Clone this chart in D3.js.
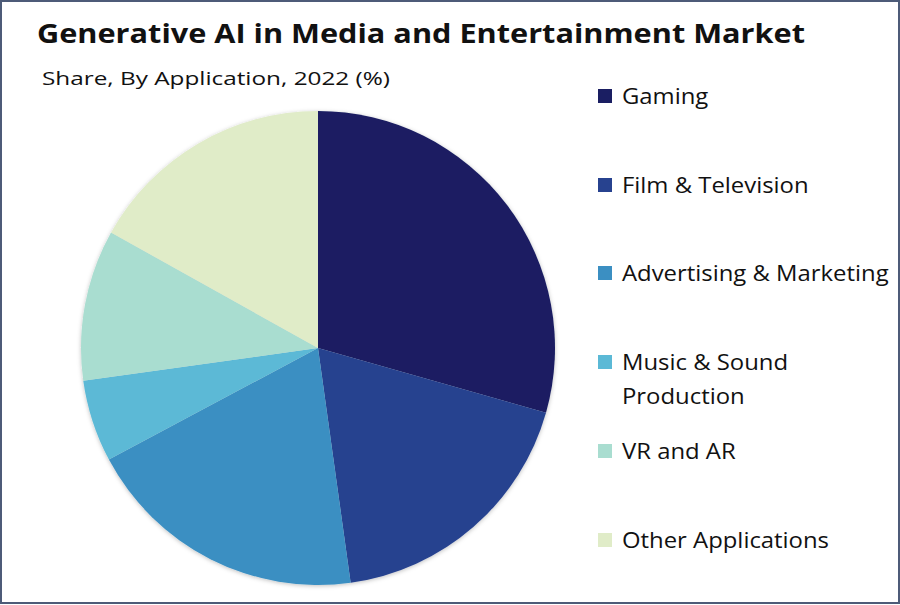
<!DOCTYPE html>
<html><head><meta charset="utf-8">
<script src="https://cdn.jsdelivr.net/npm/d3@7"></script>
<style>
html,body{margin:0;padding:0;background:#fff;}
svg{display:block;}
text{font-family:"Open Sans","Noto Sans",sans-serif;fill:#111;}
</style></head>
<body>
<svg id="chart" width="900" height="605"></svg>
<script>
const title = "Generative AI in Media and Entertainment  Market";
const subtitle = "Share, By Application, 2022 (%)";
const categories = ["Gaming", "Film & Television", "Advertising & Marketing", "Music & Sound Production", "VR and AR", "Other Applications"];
const legendLines = [["Gaming"], ["Film & Television"], ["Advertising & Marketing"], ["Music & Sound", "Production"], ["VR and AR"], ["Other Applications"]];
const shares = [29.4, 18.4, 19.4, 5.6, 10.3, 16.9];
const colors = ["#1a1e62", "#27428f", "#3b8fc2", "#5bb9d6", "#a9ddd0", "#e0ecc8"];

const svg = d3.select("#chart");
const W = 900, H = 605;

// frame
svg.append("rect").attr("x",1).attr("y",1).attr("width",W-2).attr("height",H-3)
  .attr("fill","#fff").attr("stroke","#4d5b78").attr("stroke-width",2);

const defs = svg.append("defs");
const f = defs.append("filter").attr("id","sh").attr("x","-10%").attr("y","-10%").attr("width","120%").attr("height","120%");
f.append("feDropShadow").attr("dx",0).attr("dy",1).attr("stdDeviation",2).attr("flood-color","#000").attr("flood-opacity",0.25);

svg.append("text").attr("x",37).attr("y",43).text(title)
  .style("font-size","27px").style("font-weight",700)
  .attr("textLength",768).attr("lengthAdjust","spacingAndGlyphs");
svg.append("text").attr("x",42).attr("y",85).text(subtitle)
  .style("font-size","19px")
  .attr("textLength",348).attr("lengthAdjust","spacingAndGlyphs");

const cx = 318, cy = 348, r = 237;
const pie = d3.pie().sort(null).value(d => d);
const arc = d3.arc().innerRadius(0).outerRadius(r);
const g = svg.append("g").attr("transform",`translate(${cx},${cy})`).attr("filter","url(#sh)");
g.selectAll("path").data(pie(shares)).join("path")
  .attr("d",arc).attr("fill",(d,i)=>colors[i]);

const lg = svg.append("g");
const item = lg.selectAll("g").data(categories).join("g")
  .attr("transform",(d,i)=>`translate(598,${[96,185,273,362,451,540][i]})`);
item.append("rect").attr("x",0).attr("y",-7).attr("width",14).attr("height",14).attr("fill",(d,i)=>colors[i]);
item.each(function(d,i){
  const sel = d3.select(this);
  legendLines[i].forEach((ln,j)=>{
    const t = sel.append("text").attr("x",24).attr("y",8 + j*34).style("font-size","21.5px").text(ln);
    const w = t.node().getComputedTextLength();
    t.attr("textLength", w*1.11).attr("lengthAdjust","spacingAndGlyphs");
  });
});
</script>
</body></html>
